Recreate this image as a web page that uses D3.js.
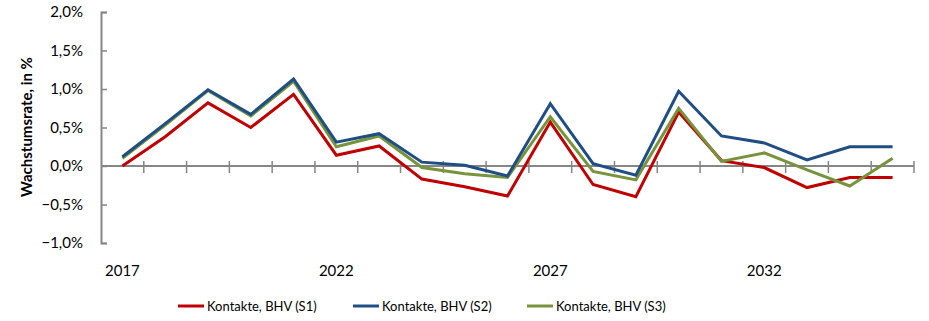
<!DOCTYPE html>
<html>
<head>
<meta charset="utf-8">
<script src="https://cdn.jsdelivr.net/npm/d3@7"></script>
<style>
  html, body { margin: 0; padding: 0; background: #fff; }
  svg { display: block; }
  text { font-family: Lato, "Open Sans", "Liberation Sans", sans-serif; fill: #000; }
</style>
</head>
<body>
<svg id="chart" width="929" height="321"></svg>
<script>
// Jahre der Prognose
const years = [2017, 2018, 2019, 2020, 2021, 2022, 2023, 2024, 2025, 2026,
               2027, 2028, 2029, 2030, 2031, 2032, 2033, 2034, 2035];

// Wachstumsraten in Prozent je Szenario
const s1 = [0.00, 0.38, 0.82, 0.50, 0.93, 0.14, 0.26, -0.17, -0.27, -0.39,
            0.57, -0.24, -0.40, 0.70, 0.07, -0.02, -0.28, -0.15, -0.15];
const s2 = [0.12, 0.55, 0.99, 0.67, 1.13, 0.31, 0.42, 0.05, 0.01, -0.13,
            0.81, 0.03, -0.12, 0.97, 0.39, 0.30, 0.08, 0.25, 0.25];
const s3 = [0.10, 0.53, 0.98, 0.65, 1.10, 0.25, 0.39, -0.02, -0.10, -0.15,
            0.64, -0.07, -0.18, 0.75, 0.06, 0.17, -0.05, -0.26, 0.10];

const seriesNames = ["Kontakte, BHV (S1)", "Kontakte, BHV (S2)", "Kontakte, BHV (S3)"];
const seriesColors = ["#C00000", "#1F4E85", "#77933C"];

const yTicks = [-1.0, -0.5, 0.0, 0.5, 1.0, 1.5, 2.0];
const xLabelYears = [2017, 2022, 2027, 2032];

const series = [s1, s2, s3].map((vals, i) => ({
  name: seriesNames[i],
  color: seriesColors[i],
  values: years.map((y, j) => ({ year: y, value: vals[j] }))
}));

const svg = d3.select("#chart");
const axisColor = "#868686";

const x = d3.scaleBand().domain(years).range([101, 914]).paddingInner(0).paddingOuter(0);
const y = d3.scaleLinear().domain([-1, 2]).range([243, 12]);

const de = d3.formatLocale({ decimal: ",", thousands: ".", grouping: [3], currency: ["", " €"] });
const fmt = v => de.format(".1f")(v) + "%";

// y axis
const yAxis = svg.append("g")
  .attr("transform", `translate(${x.range()[0]},0)`)
  .call(d3.axisLeft(y).tickValues(yTicks).tickSize(-6).tickPadding(18).tickFormat(fmt));
yAxis.select(".domain").attr("stroke", axisColor).attr("stroke-width", 2);
yAxis.selectAll(".tick line").attr("stroke", axisColor).attr("stroke-width", 1.5);
yAxis.selectAll(".tick text")
  .attr("font-size", 15)
  .attr("font-family", "Lato, 'Open Sans', sans-serif")
  .attr("fill", "#000");

// x axis on the zero line, with cross tick marks at band boundaries
const x0 = y(0);
svg.append("line")
  .attr("x1", x.range()[0]).attr("x2", x.range()[1])
  .attr("y1", x0).attr("y2", x0)
  .attr("stroke", axisColor).attr("stroke-width", 2);

const boundaries = years.slice(1).map(yr => x(yr)).concat([x.range()[1]]);
svg.append("g").selectAll("line")
  .data(boundaries)
  .join("line")
  .attr("x1", d => d).attr("x2", d => d)
  .attr("y1", x0 - 5).attr("y2", x0 + 7)
  .attr("stroke", axisColor).attr("stroke-width", 1.5);

svg.append("g").selectAll("text")
  .data(xLabelYears)
  .join("text")
  .attr("x", d => x(d) + x.bandwidth() / 2)
  .attr("y", 276)
  .attr("text-anchor", "middle")
  .attr("font-size", 15)
  .text(d => d);

// y axis title
svg.append("text")
  .attr("transform", `translate(32,127) rotate(-90)`)
  .attr("text-anchor", "middle")
  .attr("font-size", 15)
  .attr("font-weight", "bold")
  .text("Wachstumsrate, in %");

// lines
const line = d3.line()
  .x(d => x(d.year) + x.bandwidth() / 2)
  .y(d => y(d.value));

svg.append("g").selectAll("path")
  .data([series[0], series[2], series[1]])
  .join("path")
  .attr("d", d => line(d.values))
  .attr("fill", "none")
  .attr("stroke", d => d.color)
  .attr("stroke-width", 3)
  .attr("stroke-linejoin", "miter");

// legend
const legendX = [178, 353, 527];
const legend = svg.append("g").selectAll("g")
  .data(series)
  .join("g")
  .attr("transform", (d, i) => `translate(${legendX[i]},306)`);
legend.append("line")
  .attr("x1", 0).attr("x2", 26)
  .attr("y1", 0).attr("y2", 0)
  .attr("stroke", d => d.color).attr("stroke-width", 3);
legend.append("text")
  .attr("x", 29).attr("y", 5)
  .attr("font-size", 13)
  .text(d => d.name);
</script>
</body>
</html>
